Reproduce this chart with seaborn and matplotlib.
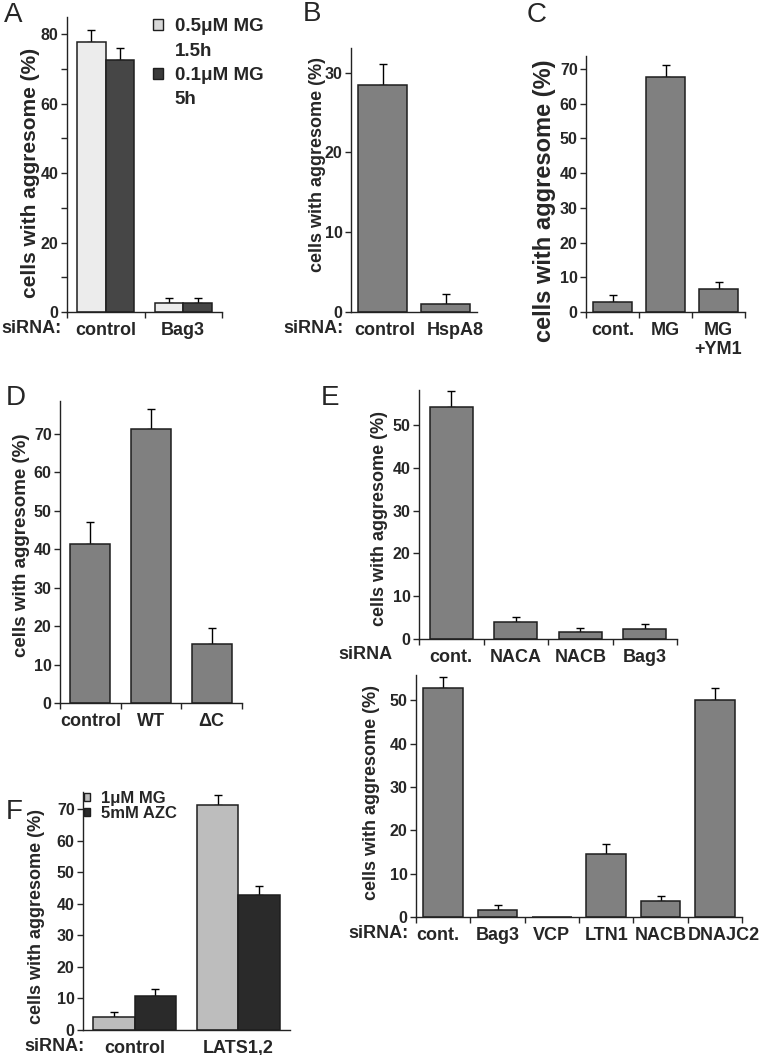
import numpy as np
import pandas as pd
import seaborn as sns
import matplotlib.pyplot as plt
from matplotlib.patches import Patch
from matplotlib.ticker import MultipleLocator

## values
# A: Bag3 knockdown, two MG132 treatments
a_cats = ["control", "Bag3"]
a_mg05 = [77.8, 2.7]
a_mg05_err = [3.5, 1.4]
a_mg01 = [72.6, 2.7]
a_mg01_err = [3.6, 1.4]

# B: HspA8 knockdown
b_cats = ["control", "HspA8"]
b_vals = [28.5, 1.0]
b_err = [2.6, 1.2]

# C: YM1
c_cats = ["cont.", "MG", "MG\n+YM1"]
c_vals = [2.8, 67.6, 6.5]
c_err = [2.0, 3.5, 2.0]

# D
d_cats = ["control", "WT", "ΔC"]
d_vals = [41.5, 71.2, 15.3]
d_err = [5.5, 5.3, 4.2]

# E top / bottom
e1_cats = ["cont.", "NACA", "NACB", "Bag3"]
e1_vals = [54.3, 4.0, 1.7, 2.4]
e1_err = [3.7, 1.2, 0.8, 1.0]

e2_cats = ["cont.", "Bag3", "VCP", "LTN1", "NACB", "DNAJC2"]
e2_vals = [52.7, 1.7, 0.0, 14.5, 3.8, 50.0]
e2_err = [2.6, 1.1, 0.0, 2.3, 1.1, 2.8]

# F: LATS1,2 knockdown
f_cats = ["control", "LATS1,2"]
f_mg = [4.2, 71.3]
f_mg_err = [1.6, 3.1]
f_azc = [10.9, 42.8]
f_azc_err = [2.1, 2.8]

YLAB = "cells with aggresome (%)"
GREY = "#808080"
EDGE = "#1e1e1e"

sns.set_style("ticks")
plt.rcParams["font.family"] = ["Liberation Sans", "DejaVu Sans"]
plt.rcParams["font.weight"] = "bold"
plt.rcParams["axes.linewidth"] = 1.0

W, H = 760, 1055
fig = plt.figure(figsize=(W / 100, H / 100), dpi=100)


def make_ax(rect):
    l, t, r, b = rect
    return fig.add_axes([l / W, 1 - b / H, (r - l) / W, (b - t) / H])


def ftext(x, y, s, **kw):
    fig.text(x / W, 1 - y / H, s, **kw)


def add_err(ax, container, errs):
    for bar, e in zip(container, errs):
        if e <= 0:
            continue
        xc = bar.get_x() + bar.get_width() / 2
        ax.errorbar(xc, bar.get_height(), yerr=[[0], [e]], color="black",
                    lw=1, capsize=3, capthick=1, zorder=1)


def finish(ax, rect, n, ymax, step, lab_xy, labsize=13, minor=None, bounds=True, labpos=None):
    l, t, r, b = rect
    sns.despine(ax=ax)
    names = [t_.get_text() for t_ in ax.get_xticklabels()]
    ax.set_xlim(-0.5, n - 0.5)
    ax.set_ylim(0, ymax)
    ax.yaxis.set_major_locator(MultipleLocator(step))
    if minor:
        ax.yaxis.set_minor_locator(MultipleLocator(minor))
    ax.set_xlabel("")
    ax.set_ylabel(YLAB, fontsize=labsize, fontweight="bold", va="center")
    ax.yaxis.set_label_coords((lab_xy[0] - l) / (r - l), (b - lab_xy[1]) / (b - t))
    pos = np.arange(n) if labpos is None else labpos
    ax.set_xticks(pos, names)
    if bounds:
        ax.set_xticks(np.arange(-0.5, n, 1), minor=True)
    ax.tick_params(axis="x", which="major", length=0, pad=7, labelsize=13)
    ax.tick_params(axis="x", which="minor", length=4, width=1)
    ax.tick_params(axis="y", which="both", length=4, width=1, pad=2, labelsize=11.5)
    for s in ("left", "bottom"):
        ax.spines[s].set_color("#222222")


def single(rect, cats, vals, errs, width):
    ax = make_ax(rect)
    sns.barplot(x=cats, y=vals, color=GREY, saturation=1, width=width,
                edgecolor=EDGE, linewidth=1.1, ax=ax, zorder=2)
    add_err(ax, ax.containers[0], errs)
    return ax


# ---- A
rect_a = (67, 17, 222, 312)
ax = make_ax(rect_a)
df_a = pd.DataFrame({"siRNA": a_cats * 2,
                     "value": a_mg05 + a_mg01,
                     "treat": ["0.5"] * 2 + ["0.1"] * 2})
sns.barplot(data=df_a, x="siRNA", y="value", hue="treat", palette=["#ececec", "#464646"],
            saturation=1, width=0.74, gap=0, edgecolor=EDGE, linewidth=1.1,
            legend=False, ax=ax, zorder=2)
add_err(ax, ax.containers[0], a_mg05_err)
add_err(ax, ax.containers[1], a_mg01_err)
finish(ax, rect_a, 2, 85, 20, (31, 173), labsize=15, minor=10)
blank = Patch(facecolor="none", edgecolor="none")
ax.legend([Patch(facecolor="#d8d8d8", edgecolor=EDGE), blank,
           Patch(facecolor="#3a3a3a", edgecolor=EDGE), blank],
          ["0.5μM MG", "1.5h", "0.1μM MG", "5h"],
          loc="upper left", bbox_to_anchor=(153 / W, 1 - 18 / H), bbox_transform=fig.transFigure,
          frameon=False, prop={"weight": "bold", "size": 13.5}, handlelength=0.55,
          handleheight=0.55, handletextpad=0.6, labelspacing=0.4, borderpad=0, borderaxespad=0)

# ---- B
rect_b = (351, 48, 477, 312)
ax = single(rect_b, b_cats, b_vals, b_err, 0.79)
finish(ax, rect_b, 2, 33.1, 10, (318, 164), labsize=13, bounds=False, labpos=[0.04, 1.15])

# ---- C
rect_c = (586, 56, 745, 312)
ax = single(rect_c, c_cats, c_vals, c_err, 0.74)
finish(ax, rect_c, 3, 73.7, 10, (545, 201), labsize=17)

# ---- D
rect_d = (60, 401, 242, 703)
ax = single(rect_d, d_cats, d_vals, d_err, 0.66)
finish(ax, rect_d, 3, 78.6, 10, (22, 545), labsize=13.5)

# ---- E top
rect_e1 = (419, 390, 677, 639)
ax = single(rect_e1, e1_cats, e1_vals, e1_err, 0.67)
finish(ax, rect_e1, 4, 58.2, 10, (380, 519))

# ---- E bottom
rect_e2 = (416, 675, 742, 917)
ax = single(rect_e2, e2_cats, e2_vals, e2_err, 0.73)
finish(ax, rect_e2, 6, 55.8, 10, (372, 792),
       labpos=[-0.1, 1, 2, 3, 4, 5.17])

# ---- F
rect_f = (83, 792, 290, 1030)
ax = make_ax(rect_f)
df_f = pd.DataFrame({"siRNA": f_cats * 2,
                     "value": f_mg + f_azc,
                     "treat": ["MG"] * 2 + ["AZC"] * 2})
sns.barplot(data=df_f, x="siRNA", y="value", hue="treat", palette=["#bdbdbd", "#2a2a2a"],
            saturation=1, width=0.8, gap=0, edgecolor=EDGE, linewidth=1.1,
            legend=False, ax=ax, zorder=2)
add_err(ax, ax.containers[0], f_mg_err)
add_err(ax, ax.containers[1], f_azc_err)
finish(ax, rect_f, 2, 75.4, 10, (37, 916), bounds=False)
ax.legend([Patch(facecolor="#bdbdbd", edgecolor=EDGE), Patch(facecolor="#2a2a2a", edgecolor=EDGE)],
          ["1μM MG", "5mM AZC"],
          loc="upper left", bbox_to_anchor=(84 / W, 1 - 791 / H), bbox_transform=fig.transFigure,
          frameon=False, prop={"weight": "bold", "size": 12}, handlelength=0.38,
          handleheight=0.38, handletextpad=0.65, labelspacing=0.0, borderpad=0, borderaxespad=0)

# ---- siRNA row labels
lab = dict(fontsize=13, fontweight="bold", va="top", ha="left")
ftext(1, 320, "siRNA:", **lab)
ftext(283, 320, "siRNA:", **lab)
ftext(338, 646, "siRNA", **lab)
ftext(348, 925, "siRNA:", **lab)
ftext(24, 1038, "siRNA:", **lab)

# ---- panel letters
let = dict(fontsize=20, fontweight="normal", ha="center", va="center")
for s, x, y in [("A", 13, 15), ("B", 312, 14), ("C", 537, 15),
                ("D", 16, 398), ("E", 330, 398), ("F", 14, 812)]:
    ftext(x, y, s, **let)

fig.savefig("out.png", dpi=100)
